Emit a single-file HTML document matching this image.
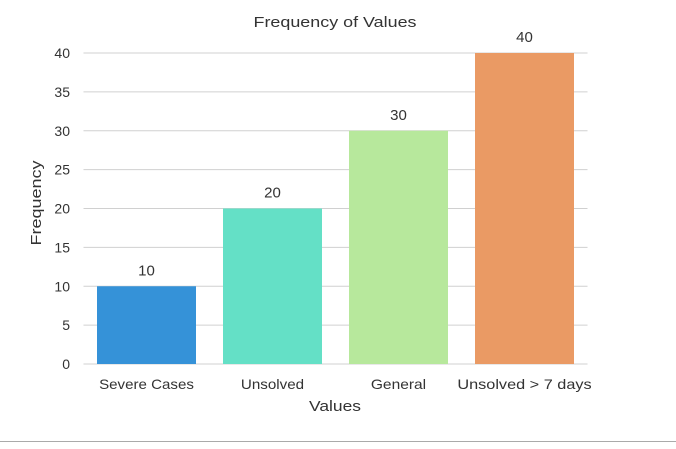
<!DOCTYPE html>
<html><head><meta charset="utf-8"><style>
html,body{margin:0;padding:0;background:#fff;width:676px;height:449px;overflow:hidden}
text{font-family:"Liberation Sans",Arial,sans-serif;fill:#333}
</style></head><body>
<svg id="chart" width="676" height="449" xmlns="http://www.w3.org/2000/svg">
<g id="grid"></g>
<g id="bars"></g>
<g id="labels"></g>
<g id="yticks"></g>
<g id="xticks"></g>
<text x="335" y="27" text-anchor="middle" font-size="15" textLength="163" lengthAdjust="spacingAndGlyphs">Frequency of Values</text>
<text x="335" y="411" text-anchor="middle" font-size="15" textLength="52" lengthAdjust="spacingAndGlyphs">Values</text>
<text transform="translate(41,203) rotate(-90)" text-anchor="middle" font-size="15" textLength="85" lengthAdjust="spacingAndGlyphs">Frequency</text>
<line x1="0" x2="676" y1="441.5" y2="441.5" stroke="#aaa" stroke-width="1"/>
</svg>
<script>
const categories = ["Severe Cases","Unsolved","General","Unsolved > 7 days"];
const values = [10,20,30,40];
const colors = ["#3592d8","#64e0c6","#b7e89c","#ea9a64"];
const yTicks = [0,5,10,15,20,25,30,35,40];
const NS="http://www.w3.org/2000/svg";
const x0=83.5, band=126, barW=99;
const y=v=>364-v*7.775;
const xc=i=>x0+band*(i+0.5);
function mk(tag,attrs,parent){const e=document.createElementNS(NS,tag);for(const k in attrs)e.setAttribute(k,attrs[k]);document.getElementById(parent).appendChild(e);return e;}
yTicks.forEach(t=>{
  const l=mk('line',{x1:x0,x2:x0+band*categories.length,y1:y(t),y2:y(t),stroke:'#d0d0d0','stroke-width':1},'grid');
  
  
  const tx=mk('text',{x:70,y:y(t)+5,'text-anchor':'end','font-size':14},'yticks');
  tx.textContent=t;
  
  
});
categories.forEach((c,i)=>{
  const r=mk('rect',{x:xc(i)-barW/2,y:y(values[i]),width:barW,height:y(0)-y(values[i]),fill:colors[i]},'bars');
  
  
  const lb=mk('text',{x:xc(i),y:y(values[i])-11,'text-anchor':'middle','font-size':15},'labels');
  lb.textContent=values[i];
  
  
  const xt=mk('text',{x:xc(i),y:389,'text-anchor':'middle','font-size':14},'xticks');
  xt.textContent=c;
  const w=c.length*7.9;
  xt.setAttribute('textLength',w);
  xt.setAttribute('lengthAdjust','spacingAndGlyphs');
  
  
});
</script>
</body></html>
